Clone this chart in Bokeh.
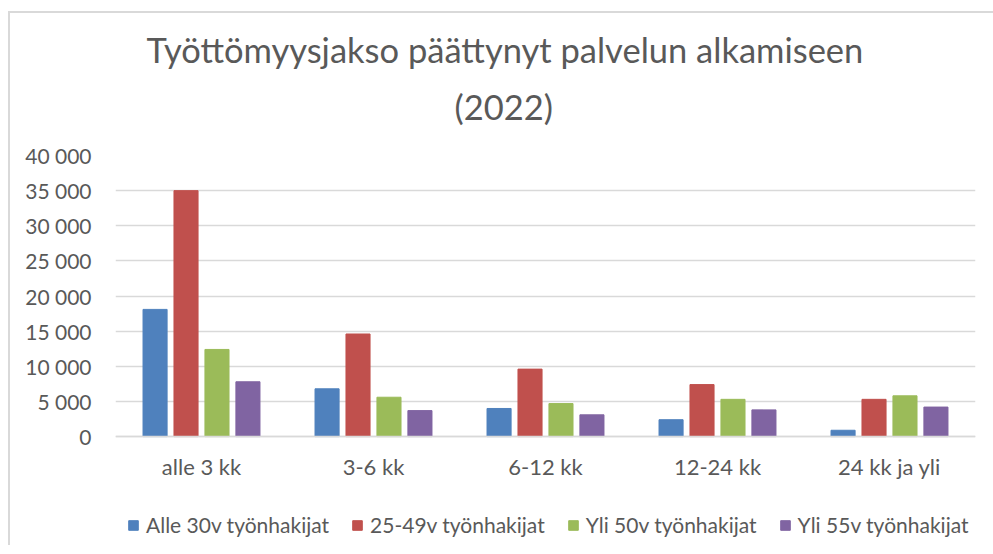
from bokeh.plotting import figure
from bokeh.models import ColumnDataSource, FactorRange, Range1d, Legend, LegendItem, FixedTicker, Title
from bokeh.transform import dodge
from bokeh.embed import file_html
from bokeh.resources import INLINE

categories = ["alle 3 kk", "3-6 kk", "6-12 kk", "12-24 kk", "24 kk ja yli"]
series_names = ["Alle 30v työnhakijat", "25-49v työnhakijat", "Yli 50v työnhakijat", "Yli 55v työnhakijat"]
alle30 = [18100, 6800, 4000, 2400, 900]
v25_49 = [35000, 14600, 9600, 7400, 5300]
yli50 = [12400, 5600, 4700, 5300, 5800]
yli55 = [7800, 3700, 3100, 3800, 4200]
y_ticks = [0, 5000, 10000, 15000, 20000, 25000, 30000, 35000, 40000]
y_tick_labels = ["0", "5 000", "10 000", "15 000", "20 000", "25 000", "30 000", "35 000", "40 000"]
title_line1 = "Työttömyysjakso päättynyt palvelun alkamiseen"
title_line2 = "(2022)"

colors = ["#4F81BD", "#C0504D", "#9BBB59", "#8064A2"]
FONT = "Lato"
TXT = "#595959"
Y_TOP = 40000
Y_BOTTOM = -15500  # room below the axis for category labels and legend

src = ColumnDataSource(dict(cat=categories, a=alle30, b=v25_49, c=yli50, d=yli55))

p = figure(x_range=FactorRange(*categories, range_padding=0), y_range=Range1d(Y_BOTTOM, Y_TOP),
           frame_width=860, frame_height=390, output_backend="svg", toolbar_location=None,
           min_border_left=115, min_border_right=18, min_border_top=155, min_border_bottom=0)
p.outline_line_color = None
p.border_fill_color = None
p.styles = {"box-shadow": "inset 8px 11px 0 0 #ffffff, inset 10px 13px 0 0 #d9d9d9"}

t2 = Title(text=title_line2, align="left", text_font=FONT, text_font_size="34.5px",
           text_font_style="normal", text_color=TXT, standoff=58, offset=339)
t1 = Title(text=title_line1, align="left", text_font=FONT, text_font_size="34.5px",
           text_font_style="normal", text_color=TXT, standoff=-30, offset=31)
p.add_layout(t2, "above")
p.add_layout(t1, "above")

offsets = [-0.27, -0.09, 0.09, 0.27]
renderers = []
for key, off, col in zip(["a", "b", "c", "d"], offsets, colors):
    r = p.vbar(x=dodge("cat", off, range=p.x_range), top=key, width=0.14, source=src,
               fill_color=col, line_color=col)
    renderers.append(r)

p.xgrid.grid_line_color = None
p.ygrid.grid_line_color = "#d9d9d9"
p.ygrid.grid_line_width = 1.5
p.yaxis.ticker = FixedTicker(ticks=y_ticks)
p.yaxis.major_label_overrides = {t_: l for t_, l in zip(y_ticks, y_tick_labels)}
p.yaxis.axis_line_color = None
p.yaxis.major_tick_line_color = None
p.yaxis.minor_tick_line_color = None
p.yaxis.major_label_text_font = FONT
p.yaxis.major_label_text_font_size = "21px"
p.yaxis.major_label_text_color = TXT
p.yaxis.major_label_standoff = 18

p.xaxis.fixed_location = 0
p.xaxis.axis_line_color = "#d9d9d9"
p.xaxis.axis_line_width = 1.5
p.xaxis.major_tick_line_color = None
p.xaxis.minor_tick_line_color = None
p.xaxis.major_label_text_font = FONT
p.xaxis.major_label_text_font_size = "22px"
p.xaxis.major_label_text_color = TXT
p.xaxis.major_label_standoff = 10

items = [LegendItem(label=n, renderers=[r]) for n, r in zip(series_names, renderers)]
leg = Legend(items=items, orientation="horizontal", location=(12, 8),
             label_text_font=FONT, label_text_font_size="21px", label_text_color=TXT,
             glyph_width=12, glyph_height=12, spacing=22, padding=4, margin=0,
             border_line_color=None, background_fill_alpha=0, label_standoff=7)
p.add_layout(leg, "center")

open("out.html", "w").write(file_html(p, INLINE))
